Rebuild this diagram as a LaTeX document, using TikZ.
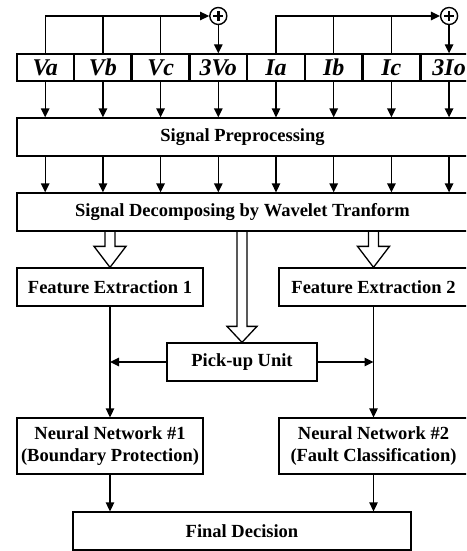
\documentclass[tikz,border=0pt]{standalone}
\usepackage{fontspec}
\setmainfont{Liberation Serif}
\usetikzlibrary{arrows.meta,calc}
\tikzset{
  box/.style={draw, line width=1.3pt, inner sep=0pt, align=center, font=\fontsize{18.5}{21.5}\bfseries\selectfont},
  cell/.style={draw, line width=1.3pt, inner sep=0pt, minimum width=56.4pt, minimum height=27pt, font=\fontsize{24}{26}\bfseries\itshape\selectfont},
  arr/.style={line width=1.3pt, -{Triangle[length=9pt,width=8.5pt]}},
  ln/.style={line width=1.3pt},
  hollowstyle/.style={line width=1.3pt, line join=miter},
  summer/.style={draw, circle, line width=1.4pt, minimum size=17pt, inner sep=0pt,
    path picture={\draw[line width=2.4pt] ($(path picture bounding box.center)+(-5pt,0)$) -- ($(path picture bounding box.center)+(5pt,0)$);
                  \draw[line width=2.4pt] ($(path picture bounding box.center)+(0,-5pt)$) -- ($(path picture bounding box.center)+(0,5pt)$);}}
}
\newcommand{\hollowarr}[5]{%
  \draw[hollowstyle] let \p1=(#1), \p2=(#2) in
    (\x1-#3,\y1) -- (\x1-#3,\y2+#5) -- (\x1-#4,\y2+#5) -- (\x2,\y2) -- (\x1+#4,\y2+#5) -- (\x1+#3,\y2+#5) -- (\x1+#3,\y1);}
\begin{document}
\begin{tikzpicture}[x=1pt,y=-1pt]
\useasboundingbox (0,0) rectangle (466,551);
\begin{scope}
\clip (0,0) rectangle (466,551);
% input cells
\node[cell] (c1) at (45.2,67.5) {Va};
\node[cell, anchor=west] (c2) at (c1.east) {Vb};
\node[cell, anchor=west] (c3) at (c2.east) {Vc};
\node[cell, anchor=west] (c4) at (c3.east) {3Vo};
\node[cell, anchor=west] (c5) at (c4.east) {Ia};
\node[cell, anchor=west] (c6) at (c5.east) {Ib};
\node[cell, anchor=west] (c7) at (c6.east) {Ic};
\node[cell, anchor=west] (c8) at (c7.east) {3Io};
% summing junctions
\node[summer] (s1) at (c4.center |- 0,16) {};
\node[summer] (s2) at (c8.center |- 0,16) {};
\draw[arr] (c1.north) |- (s1.west);
\draw[ln] (c2.north) -- (c2.north |- s1.west);
\draw[ln] (c3.north) -- (c3.north |- s1.west);
\draw[arr] (s1.south) -- (c4.north);
\draw[arr] (c5.north) |- (s2.west);
\draw[ln] (c6.north) -- (c6.north |- s2.west);
\draw[ln] (c7.north) -- (c7.north |- s2.west);
\draw[arr] (s2.south) -- (c8.north);
% main boxes
\node[box, minimum width=451pt, minimum height=38pt] (sp) at (242.5,137) {Signal Preprocessing};
\node[box, minimum width=451pt, minimum height=38pt] (dec) at (242.5,212) {Signal Decomposing by Wavelet Tranform};
\node[box, minimum width=186pt, minimum height=38pt] (fe1) at (110,287) {Feature Extraction 1};
\node[box, minimum width=189pt, minimum height=38pt] (fe2) at (373.5,287) {Feature Extraction 2};
\node[box, minimum width=150pt, minimum height=38pt] (pu) at (242,362) {Pick-up Unit};
\node[box, minimum width=186pt, minimum height=56pt] (nn1) at (110,446) {Neural Network \#1\\(Boundary Protection)};
\node[box, minimum width=189pt, minimum height=56pt] (nn2) at (373.5,446) {Neural Network \#2\\(Fault Classification)};
\node[box, minimum width=338pt, minimum height=38pt] (fd) at (242,531) {Final Decision};
% cell -> preprocessing -> decomposition
\foreach \i in {1,...,8} {
  \draw[arr] (c\i.south) -- (c\i.south |- sp.north);
  \draw[arr] (c\i.south |- sp.south) -- (c\i.south |- dec.north);
}
% hollow arrows
\hollowarr{dec.south -| fe1.north}{fe1.north}{5pt}{16pt}{21pt}
\hollowarr{dec.south -| fe2.north}{fe2.north}{5pt}{16pt}{21pt}
\hollowarr{dec.south -| pu.north}{pu.north}{5pt}{15pt}{16pt}
% connections
\draw[arr] (fe1.south) -- (nn1.north);
\draw[arr] (fe2.south) -- (nn2.north);
\draw[arr] (pu.west) -- (pu.west -| fe1.south);
\draw[arr] (pu.east) -- (pu.east -| fe2.south);
\draw[arr] (nn1.south) -- (nn1.south |- fd.north);
\draw[arr] (nn2.south) -- (nn2.south |- fd.north);
\end{scope}
\end{tikzpicture}
\end{document}
